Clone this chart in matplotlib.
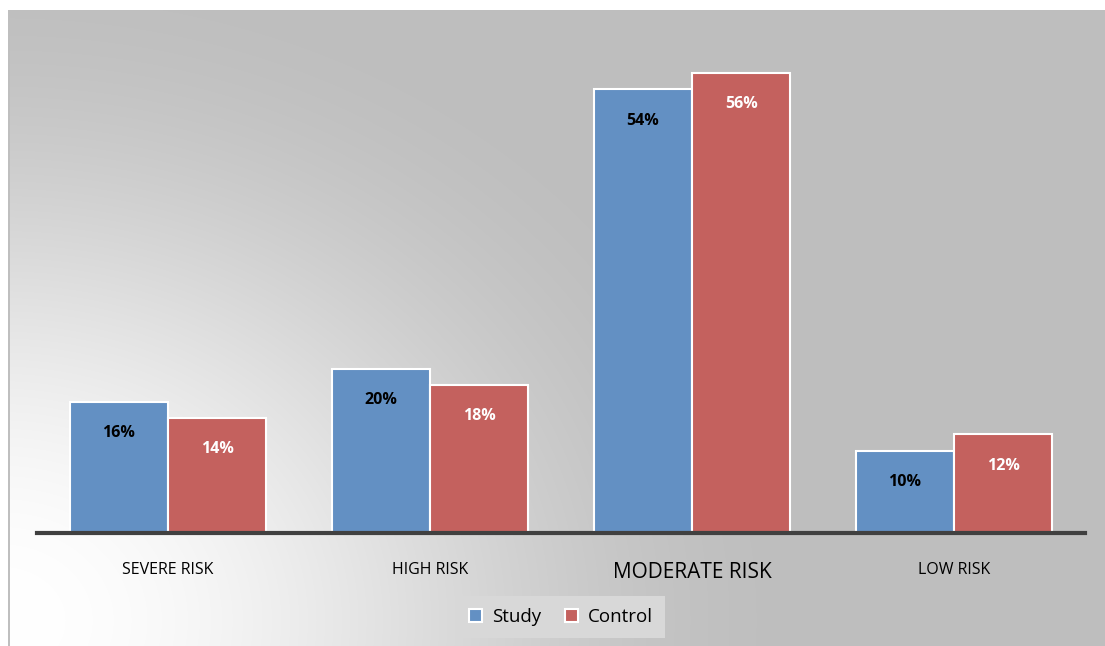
import numpy as np
import matplotlib
matplotlib.use('Agg')
import matplotlib.pyplot as plt

plt.rcParams['font.family'] = ['Open Sans', 'DejaVu Sans']

categories = ['SEVERE RISK', 'HIGH RISK', 'MODERATE RISK', 'LOW RISK']
study = [16, 20, 54, 10]
control = [14, 18, 56, 12]

W, H = 1105, 646
fig = plt.figure(figsize=(W / 100, H / 100), dpi=100)

# background: grey panel with a soft light spot at bottom-left
bg = fig.add_axes([0, 0, 1, 1], zorder=-2)
yy, xx = np.mgrid[0:H, 0:W]
d = np.sqrt((xx * 0.95) ** 2 + ((yy - 620) * 1.15) ** 2)
t = 0.5 * (1 + np.cos(np.pi * np.clip(d / 780, 0, 1)))
v = 190 + 65 * t
img = np.dstack([v, v, v]) / 255.0
img[:10, :, :] = 1.0
img[:, :8, :] = 1.0
img[10:, 8:10, :] = 0.75
bg.imshow(img, extent=[0, W, H, 0], aspect='auto', interpolation='bilinear')
bg.set_xlim(0, W)
bg.set_ylim(H, 0)
bg.axis('off')

ax = fig.add_axes([37 / W, 1 - 533 / H, (1085 - 37) / W, (533 - 40) / H])
ax.patch.set_alpha(0)
x = np.arange(len(categories))
w = 0.375
b1 = ax.bar(x - w / 2, study, w, color='#6390c3', edgecolor='white', linewidth=1.5)
b2 = ax.bar(x + w / 2, control, w, color='#c4615e', edgecolor='white', linewidth=1.5)

for r, val in zip(b1, study):
    ax.text(r.get_x() + r.get_width() / 2, val - 3.8, f'{val}%', ha='center',
            va='center', fontsize=11.5, fontweight='bold', color='black')
for r, val in zip(b2, control):
    ax.text(r.get_x() + r.get_width() / 2, val - 3.8, f'{val}%', ha='center',
            va='center', fontsize=11.5, fontweight='bold', color='white')

ax.set_xlim(-0.5, 3.5)
ax.set_ylim(0, 60)
ax.set_yticks([])
ax.set_xticks(x)
ax.set_xticklabels(categories)
for lbl in ax.get_xticklabels():
    lbl.set_fontsize(15 if lbl.get_text() == 'MODERATE RISK' else 11.5)
ax.tick_params(axis='x', length=0, pad=21)
for s in ['top', 'right', 'left']:
    ax.spines[s].set_visible(False)
ax.spines['bottom'].set_color('#404040')
ax.spines['bottom'].set_linewidth(3)

leg = ax.legend([b1, b2], ['Study', 'Control'], loc='center',
                bbox_to_anchor=((561 - 37) / 1048, -(617 - 533) / 493),
                ncol=2, frameon=True, fontsize=13.5, handlelength=0.7,
                handleheight=0.7, handletextpad=0.5, columnspacing=1.3,
                borderpad=0.65, fancybox=False)
leg.get_frame().set_facecolor('#d8d8d8')
leg.get_frame().set_edgecolor('none')
leg.get_frame().set_alpha(1)

fig.savefig('out.png', dpi=100)
